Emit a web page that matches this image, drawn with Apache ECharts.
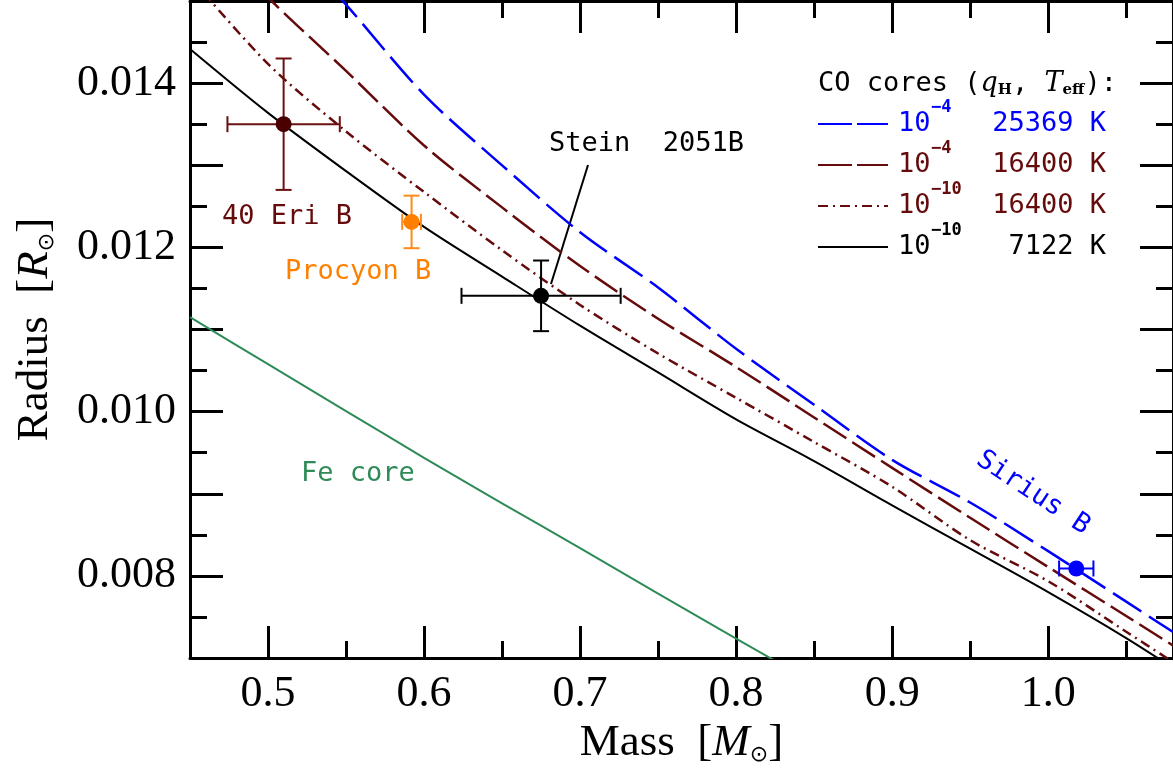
<!DOCTYPE html>
<html>
<head>
<meta charset="utf-8">
<script src="https://cdn.jsdelivr.net/npm/echarts@6/dist/echarts.min.js"></script>
<style>
  html, body { margin: 0; padding: 0; background: #fff; }
  #chart { width: 1173px; height: 771px; }
</style>
</head>
<body>
<div id="chart"></div>
<script>
// mass grid [Msun] and model radii [Rsun]
const massGrid = [0.45, 0.50, 0.55, 0.60, 0.65, 0.70, 0.75, 0.80, 0.85, 0.90, 0.95, 1.00, 1.05, 1.08];
const rHThick25369 = [0.017055, 0.016003, 0.014956, 0.013860, 0.012999, 0.012185, 0.011511, 0.010765, 0.010084, 0.009413, 0.008893, 0.008301, 0.007686, 0.007316];
const rHThick16400 = [0.016046, 0.015043, 0.014149, 0.013241, 0.012487, 0.011773, 0.011131, 0.010543, 0.009929, 0.009315, 0.008707, 0.008108, 0.007511, 0.007152];
const rHThin16400 = [0.015292, 0.014234, 0.013412, 0.012674, 0.011965, 0.011299, 0.010708, 0.010168, 0.009630, 0.009085, 0.008435, 0.007935, 0.007320, 0.006951];
const rHThin7122 = [0.014416, 0.013638, 0.012929, 0.012249, 0.011644, 0.011046, 0.010477, 0.009906, 0.009398, 0.008859, 0.008331, 0.007802, 0.007243, 0.006878];

const feMass = [0.45, 0.50, 0.55, 0.60, 0.65, 0.70, 0.75, 0.80, 0.85];
const feRadius = [0.011150, 0.010578, 0.010007, 0.009438, 0.008884, 0.008337, 0.007784, 0.007237, 0.006696];

// observed white dwarfs
const starNames = ['40 Eri B', 'Procyon B', 'Stein 2051B', 'Sirius B'];
const starMass = [0.510, 0.592, 0.675, 1.018];
const starMassErr = [0.036, 0.006, 0.051, 0.011];
const starRadius = [0.01350, 0.01231, 0.01141, 0.00809];
const starRadiusErr = [0.00080, 0.00032, 0.00043, 0];

const starColors = ['#4a0000', '#ff8000', '#000000', '#0000ff'];
const barColors = ['#6a1010', '#ff8a1a', '#000000', '#0000ff'];
const maroon = '#650b0b';
const green = '#2e8b57';

const xTicks = [0.5, 0.6, 0.7, 0.8, 0.9, 1.0];
const yTickLabels = [0.008, 0.010, 0.012, 0.014];

const zip = (a, b) => a.map((v, i) => [v, b[i]]);

const chart = echarts.init(document.getElementById('chart'));

const axisLineStyle = { color: '#000', width: 3 };
const serif = 'Liberation Serif';
const mono = 'DejaVu Sans Mono';

function xAxisCfg(pos, labels) {
  return {
    type: 'value', position: pos, min: 0.45, max: 1.08,
    minInterval: 0.1, maxInterval: 0.1,
    axisLine: { show: true, onZero: false, lineStyle: axisLineStyle },
    axisTick: { inside: true, length: 32, lineStyle: { width: 3, color: '#000' } },
    minorTick: { show: true, splitNumber: 2, length: 17, lineStyle: { width: 3, color: '#000' } },
    splitLine: { show: false },
    axisLabel: {
      show: labels, showMinLabel: false, showMaxLabel: false, margin: 14,
      fontFamily: serif, fontSize: 44, color: '#000',
      formatter: v => xTicks.some(t => Math.abs(t - v) < 1e-6) ? v.toFixed(1) : ''
    }
  };
}

function yAxisCfg(pos, labels) {
  return {
    type: 'value', position: pos, min: 0.007, max: 0.015, interval: 0.001,
    axisLine: { show: true, onZero: false, lineStyle: axisLineStyle },
    axisTick: { inside: true, length: 33, lineStyle: { width: 3, color: '#000' } },
    minorTick: { show: true, splitNumber: 2, length: 17, lineStyle: { width: 3, color: '#000' } },
    splitLine: { show: false },
    axisLabel: {
      show: labels, margin: 14, fontFamily: serif, fontSize: 44, color: '#000',
      formatter: v => yTickLabels.some(t => Math.abs(t - v) < 1e-7) ? v.toFixed(3) : ''
    }
  };
}

const xBottom = xAxisCfg('bottom', true);
xBottom.name = '{a|Mass  [}{i|M}{s|⊙}{a|]}';
xBottom.nameLocation = 'middle';
xBottom.nameGap = 58;
xBottom.nameTextStyle = {
  rich: {
    a: { fontFamily: serif, fontSize: 45, color: '#000' },
    i: { fontFamily: serif, fontStyle: 'italic', fontSize: 45, color: '#000' },
    s: { fontFamily: 'DejaVu Sans', fontSize: 22, color: '#000', verticalAlign: 'bottom' }
  }
};
const yLeft = yAxisCfg('left', true);
yLeft.name = '{a|Radius  [}{i|R}{s|⊙}{a|]}';
yLeft.nameLocation = 'middle';
yLeft.nameRotate = 90;
yLeft.nameGap = 132;
yLeft.nameTextStyle = xBottom.nameTextStyle;

const lineSeries = (name, data, color, type, width) => ({
  name, type: 'line', data, showSymbol: false, symbol: 'none', clip: true, smooth: 0.3,
  lineStyle: { color, width, type }, z: 2, animation: false
});

function renderErrorBar(params, api) {
  const i = params.dataIndex;
  const m = api.value(0), r = api.value(1), dm = api.value(2), dr = api.value(3);
  const color = barColors[i];
  const cap = 8;
  const style = { stroke: color, lineWidth: 2 };
  const children = [];
  if (dm > 0) {
    const a = api.coord([m - dm, r]), b = api.coord([m + dm, r]);
    children.push({ type: 'line', shape: { x1: a[0], y1: a[1], x2: b[0], y2: b[1] }, style });
    children.push({ type: 'line', shape: { x1: a[0], y1: a[1] - cap, x2: a[0], y2: a[1] + cap }, style });
    children.push({ type: 'line', shape: { x1: b[0], y1: b[1] - cap, x2: b[0], y2: b[1] + cap }, style });
  }
  if (dr > 0) {
    const a = api.coord([m, r + dr]), b = api.coord([m, r - dr]);
    children.push({ type: 'line', shape: { x1: a[0], y1: a[1], x2: b[0], y2: b[1] }, style });
    children.push({ type: 'line', shape: { x1: a[0] - cap, y1: a[1], x2: a[0] + cap, y2: a[1] }, style });
    children.push({ type: 'line', shape: { x1: b[0] - cap, y1: b[1], x2: b[0] + cap, y2: b[1] }, style });
  }
  return { type: 'group', children };
}

const legendRows = [
  { y: 124, color: '#0000ff', dash: [34, 5], exp: '−4', temp: '25369 K' },
  { y: 165, color: maroon, dash: [34, 5], exp: '−4', temp: '16400 K' },
  { y: 206, color: maroon, dash: [10, 5, 2, 5], exp: '−10', temp: '16400 K' },
  { y: 247, color: '#000', dash: null, exp: '−10', temp: '7122 K' }
];

const graphics = [];
graphics.push({
  type: 'text', x: 818, y: 84,
  style: {
    text: '{n|CO cores (}{i|q}{b|H}{n|, }{i|T}{b|eff}{n|):}',
    verticalAlign: 'middle',
    rich: {
      n: { fontFamily: mono, fontSize: 27, fill: '#000' },
      i: { fontFamily: 'DejaVu Serif', fontStyle: 'italic', fontSize: 27, fill: '#000' },
      b: { fontFamily: 'DejaVu Serif', fontWeight: 'bold', fontSize: 15, fill: '#000', verticalAlign: 'bottom' }
    }
  }
});
legendRows.forEach(r => {
  graphics.push({
    type: 'line', shape: { x1: 818, y1: r.y, x2: 888, y2: r.y },
    style: { stroke: r.color, lineWidth: 2, lineDash: r.dash }
  });
  graphics.push({ type: 'text', x: 898, y: r.y, style: { text: '10', fontFamily: mono, fontSize: 27, fill: r.color, verticalAlign: 'middle' } });
  graphics.push({ type: 'text', x: 931, y: r.y - 8, style: { text: r.exp, fontFamily: mono, fontSize: 17, fontWeight: 'bold', fill: r.color, verticalAlign: 'bottom' } });
  graphics.push({ type: 'text', x: 1106, y: r.y, style: { text: r.temp, fontFamily: mono, fontSize: 27, fill: r.color, align: 'right', verticalAlign: 'middle' } });
});

const textLabel = (text, x, y, color, rot) => ({
  type: 'text', x, y, rotation: rot || 0,
  style: { text, fontFamily: mono, fontSize: 27, fill: color, align: rot ? 'center' : 'left', verticalAlign: 'middle' }
});
graphics.push(textLabel('40 Eri B', 222, 217, maroon));
graphics.push(textLabel('Procyon B', 285, 272, '#ff8000'));
graphics.push(textLabel('Stein  2051B', 549, 144, '#000'));
graphics.push(textLabel('Fe core', 301, 474, green));
graphics.push(textLabel('Sirius B', 1033, 493, '#0000ff', -33.5 * Math.PI / 180));
graphics.push({
  type: 'line', shape: { x1: 588, y1: 165, x2: 551, y2: 284 },
  style: { stroke: '#000', lineWidth: 2 }
});

chart.setOption({
  animation: false,
  grid: { left: 190, right: -4, top: 1, bottom: 113 },
  xAxis: [xBottom, xAxisCfg('top', false)],
  yAxis: [yLeft, yAxisCfg('right', false)],
  graphic: graphics,
  series: [
    lineSeries('Fe core', zip(feMass, feRadius), green, 'solid', 2),
    lineSeries('1e-4 25369 K', zip(massGrid, rHThick25369), '#0000ff', [34, 9], 2.5),
    lineSeries('1e-4 16400 K', zip(massGrid, rHThick16400), maroon, [27, 7], 2.5),
    lineSeries('1e-10 16400 K', zip(massGrid, rHThin16400), maroon, [10, 5, 2, 5], 2.5),
    lineSeries('1e-10 7122 K', zip(massGrid, rHThin7122), '#000', 'solid', 2),
    {
      type: 'custom', name: 'errors', renderItem: renderErrorBar, z: 3,
      data: starMass.map((m, i) => [m, starRadius[i], starMassErr[i], starRadiusErr[i]])
    },
    {
      type: 'scatter', name: 'stars', z: 4, symbolSize: 16,
      data: starMass.map((m, i) => ({ name: starNames[i], value: [m, starRadius[i]], itemStyle: { color: starColors[i], opacity: 1 } }))
    }
  ]
});
</script>
</body>
</html>
